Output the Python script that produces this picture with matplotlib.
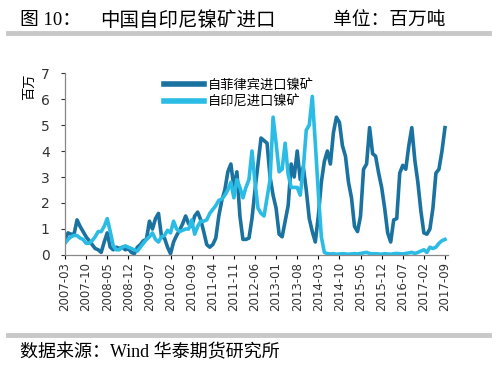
import numpy as np
import matplotlib
matplotlib.use("Agg")
import matplotlib.pyplot as plt
from matplotlib.lines import Line2D

plt.rcParams['font.family'] = ['DejaVu Sans', 'Noto Sans CJK SC']

# monthly imports, 2007-03 .. 2017-09 (million tonnes)
philippines = [
    0.6, 0.85, 0.8, 0.8, 1.35, 1.1, 0.9, 0.7, 0.55, 0.4,
    0.25, 0.2, 0.1, 0.5, 0.85, 0.3, 0.2, 0.3, 0.25, 0.3,
    0.2, 0.25, 0.1, 0.05, 0.3, 0.4, 0.55, 0.6, 1.3, 1.0,
    1.4, 1.6, 0.7, 0.65, 0.3, 0.05, 0.5, 0.75, 0.95, 1.2,
    1.5, 1.2, 1.1, 1.5, 1.65, 1.35, 0.9, 0.4, 0.3, 0.4,
    0.65, 1.5, 2.1, 2.5, 3.2, 3.5, 2.6, 3.2, 1.5, 0.6,
    0.6, 0.65, 1.4, 2.5, 3.5, 4.5, 4.4, 4.3, 3.0, 2.3,
    1.8, 0.8, 0.7, 1.3, 1.9, 3.5, 3.0, 4.0, 2.9, 3.4,
    2.5, 1.4, 0.9, 0.5, 1.5, 2.8, 3.6, 4.0, 3.5, 4.7,
    5.3, 5.1, 4.2, 3.8, 2.8, 2.2, 1.1, 0.9, 1.5, 3.3,
    3.5, 4.9, 3.9, 3.8, 3.15, 2.6, 1.8, 0.85, 0.5, 1.35,
    1.4, 3.15, 3.45, 3.3, 4.2, 4.9, 3.65, 2.8, 1.7, 0.85,
    0.8, 1.0, 1.8, 3.15, 3.3, 4.0, 4.9,
]
indonesia = [
    0.45, 0.6, 0.7, 0.75, 0.75, 0.65, 0.6, 0.45, 0.45, 0.55,
    0.7, 0.9, 0.9, 1.1, 1.4, 0.9, 0.35, 0.2, 0.2, 0.3,
    0.35, 0.3, 0.25, 0.2, 0.15, 0.3, 0.45, 0.6, 0.7, 0.85,
    0.6, 0.5, 0.7, 0.75, 0.95, 0.85, 1.3, 1.0, 0.9, 0.95,
    1.0, 1.0, 1.35, 0.8, 1.1, 1.3, 1.3, 1.35, 1.6, 1.75,
    1.9, 2.1, 2.15, 2.3, 2.5, 2.8, 2.2, 2.9, 2.6, 2.2,
    2.6, 2.9, 4.0, 2.8, 1.8, 1.6, 1.5, 2.2, 2.9, 5.3,
    4.3, 3.2, 3.3, 4.3, 3.1, 2.6, 2.6, 2.6, 2.3, 3.3,
    4.8, 5.0, 6.1, 4.3, 2.4, 0.7, 0.1, 0.05, 0.04, 0.05,
    0.03, 0.04, 0.05, 0.04, 0.03, 0.04, 0.05, 0.04, 0.06, 0.08,
    0.1, 0.06, 0.04, 0.05, 0.04, 0.03, 0.05, 0.04, 0.03, 0.05,
    0.06, 0.05, 0.04, 0.06, 0.08, 0.1, 0.06, 0.1, 0.15, 0.2,
    0.1, 0.3, 0.25, 0.3, 0.45, 0.55, 0.6,
]
start_year, start_month = 2007, 3
labels = []
for i in range(len(philippines)):
    m = start_month - 1 + i
    labels.append(f"{start_year + m // 12}-{m % 12 + 1:02d}")
series_names = ['自菲律宾进口镍矿', '自印尼进口镍矿']
dark = '#1a72a0'
light = '#2bbce6'

fig = plt.figure(figsize=(5, 3.66), dpi=100)
ax = fig.add_axes([0.13, 0.3033, 0.766, 0.4972])

x = np.arange(len(philippines))
ax.plot(x, philippines, color=dark, lw=2.6, solid_joinstyle='round')
ax.plot(x, indonesia, color=light, lw=2.6, solid_joinstyle='round')

ax.set_xlim(0, 127)
ax.set_ylim(0, 7)
ax.set_yticks(range(8))
ax.set_xticks(x[::7])
ax.set_xticklabels(labels[::7], rotation=90, fontsize=8.5, color='#333333')
ax.tick_params(axis='y', labelsize=10, colors='#333333', length=3, width=0.8, pad=8)
ax.tick_params(axis='x', length=3, width=0.8, pad=2)
for s in ['top', 'right']:
    ax.spines[s].set_visible(False)
for s in ['left', 'bottom']:
    ax.spines[s].set_color('#888888')
    ax.spines[s].set_linewidth(0.9)

fig.text(0.06, 0.762, '百万', rotation=90, fontsize=9.5, ha='center', va='center',
         family=['Noto Sans CJK SC'])

handles = [Line2D([0], [0], color=dark, lw=4), Line2D([0], [0], color=light, lw=4)]
fig.legend(handles, series_names, loc='upper left', bbox_to_anchor=(0.328, 0.785),
           frameon=False, handlelength=3.0, handletextpad=0.35,
           labelspacing=0.25, borderpad=0, borderaxespad=0,
           prop={'family': ['Noto Sans CJK SC'], 'size': 9.5})

tfam = ['Liberation Serif', 'Noto Sans CJK SC']
fig.text(0.04, 0.943, '图 10：', fontsize=13.5, family=tfam, va='center')
fig.text(0.2, 0.943, '中国自印尼镍矿进口', fontsize=14, family=tfam, va='center')
fig.text(0.666, 0.943, '单位：百万吨', fontsize=13.5, family=tfam, va='center')
fig.text(0.04, 0.036, '数据来源：Wind 华泰期货研究所', fontsize=13, family=tfam, va='center')

fig.add_artist(Line2D([0.016, 0.978], [0.909, 0.909], color='#c8c8c8', lw=3.5))
fig.add_artist(Line2D([0.016, 0.978], [0.085, 0.085], color='#c8c8c8', lw=3.5))

fig.savefig('out.png', dpi=100)
